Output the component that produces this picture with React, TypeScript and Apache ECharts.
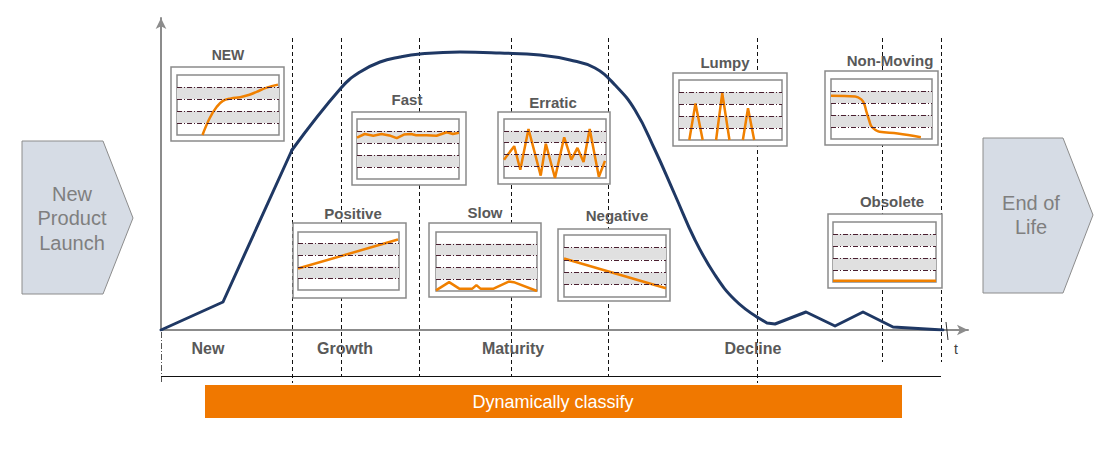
import React, { useEffect, useRef } from "react";
import * as echarts from "echarts";

// ---------- main life-cycle curve (x: time units, y: volume units) ----------
const riseX = [0, 62, 131];
const riseY = [0, 28, 180];
const capX = [131, 180, 199, 219, 239, 259, 299, 339, 379, 409, 434, 454, 474, 494, 514, 534, 554, 574, 596];
const capY = [180, 242, 258, 268, 273, 276, 278, 277, 275, 270, 262, 245, 220, 180, 135, 90, 55, 30, 13];
const tailX = [596, 606, 614, 645, 674, 702, 732, 782];
const tailY = [13, 7, 6, 18, 4, 18, 3, 0];

const phaseBounds = [0, 131, 180, 258, 350, 447, 596, 721, 780];
const phaseLabels = ["New", "Growth", "Maturity", "Decline"];
const phaseLabelX = [47, 184, 352, 592];

// ---------- mini charts ----------
const miniTitles = ["NEW", "Fast", "Erratic", "Positive", "Slow", "Negative", "Lumpy", "Non-Moving", "Obsolete"];
const newX = [25, 32, 39, 45, 53, 62, 71, 78, 88, 99];
const newY = [0, 28, 47, 57, 61, 63, 67, 72, 79, 84];
const fastX = [0, 7.5, 16, 24, 33, 39, 46, 53, 58, 68, 78, 88, 94, 100];
const fastY = [69, 75, 72, 75, 72, 68, 74, 75, 73, 73, 72, 78, 75, 77];
const erraticX = [0, 10, 16, 24, 36, 41, 50, 59, 66, 72, 78, 84, 93, 99];
const erraticY = [31, 54, 14, 83, 4, 58, 0, 69, 31, 51, 27, 83, 2, 29];
const positiveX = [0, 99];
const positiveY = [37, 87];
const slowX = [0, 13, 23, 36, 40, 44, 57, 72, 77, 100];
const slowY = [1, 15, 4, 4, 10, 4, 4, 16, 15, 0];
const negativeX = [0, 100];
const negativeY = [62, 14];
const lumpyX = [10, 16, 23, 29, 36, 42, 49, 55, 62, 67, 73];
const lumpyY: (number | string)[] = [0, 61, 0, "-", 0, 78, 0, "-", 0, 53, 0];
const nonMovingX = [0, 24, 30, 33, 35, 38, 40, 44, 48, 66, 89];
const nonMovingY = [72, 71, 66, 58, 46, 30, 21, 15, 12, 9, 3];
const obsoleteX = [0, 100];
const obsoleteY = [2, 2];
const miniXs = [newX, fastX, erraticX, positiveX, slowX, negativeX, lumpyX, nonMovingX, obsoleteX];
const miniYs = [newY, fastY, erraticY, positiveY, slowY, negativeY, lumpyY, nonMovingY, obsoleteY];
const miniSmooth = [true, false, false, false, false, false, false, true, false];
const bandLevels = [20, 40, 60, 80];

// ---------- layout (pixels) ----------
const MAIN = { left: 161, top: 18, width: 807, height: 312 };
// inner plot boxes [left, top, width, height]
const innerBoxes = [
  [177, 75, 102, 60],
  [357, 119, 102, 60],
  [504, 119, 102, 59],
  [298, 232, 101, 58],
  [436, 232, 101, 59],
  [564, 235, 102, 62],
  [679, 80, 103, 60],
  [831, 79, 101, 60],
  [833, 222, 103, 60],
];
const outerBoxes = [
  [171, 67, 113, 74],
  [352, 112, 114, 73],
  [498, 112, 112, 72],
  [293, 223, 113, 75],
  [429, 223, 112, 74],
  [558, 229, 112, 72],
  [673, 73, 114, 73],
  [825, 71, 113, 74],
  [828, 214, 114, 74],
];
const titlePos = [
  [228, 55], [407, 99], [553, 102], [353, 213], [485, 212], [617, 215], [725, 62], [890, 60], [892, 201],
];
const dividerSpans = [
  [332, 383], [38, 383], [38, 376], [38, 376], [38, 376], [38, 376], [38, 383], [38, 362], [38, 362],
];

const FONT = '"Liberation Sans", Arial, sans-serif';
const NAVY = "#1f3864";
const ORANGE = "#f08000";
const TITLE_GRAY = "#595959";

const zip = (xs: any[], ys: any[]) => xs.map((x, i) => [x, ys[i]]);

function buildOption() {
  const grids: any[] = [{ ...MAIN }];
  const xAxes: any[] = [
    {
      gridIndex: 0, type: "value", min: 0, max: MAIN.width,
      axisLine: { show: true, onZero: false, symbol: ["none", "arrow"], symbolSize: [8, 11], lineStyle: { color: "#8c8c8c", width: 2 } },
      axisTick: { show: false }, axisLabel: { show: false }, splitLine: { show: false },
    },
  ];
  const yAxes: any[] = [
    {
      gridIndex: 0, type: "value", min: 0, max: MAIN.height,
      axisLine: { show: true, onZero: false, symbol: ["none", "arrow"], symbolSize: [8, 11], lineStyle: { color: "#8c8c8c", width: 2 } },
      axisTick: { show: false }, axisLabel: { show: false }, splitLine: { show: false },
    },
  ];
  const mainLine = { color: NAVY, width: 3, cap: "round", join: "round" };
  const series: any[] = [
    { type: "line", xAxisIndex: 0, yAxisIndex: 0, data: zip(riseX, riseY), symbol: "none", lineStyle: mainLine, z: 3 },
    { type: "line", xAxisIndex: 0, yAxisIndex: 0, data: zip(capX, capY), symbol: "none", smooth: 0.45, lineStyle: mainLine, z: 3 },
    { type: "line", xAxisIndex: 0, yAxisIndex: 0, data: zip(tailX, tailY), symbol: "none", lineStyle: mainLine, z: 3 },
  ];

  innerBoxes.forEach((b, i) => {
    const gi = i + 1;
    grids.push({ left: b[0], top: b[1], width: b[2], height: b[3] });
    xAxes.push({ gridIndex: gi, type: "value", min: 0, max: 100, show: false });
    yAxes.push({ gridIndex: gi, type: "value", min: 0, max: 100, show: false });
    series.push({
      type: "line", xAxisIndex: gi, yAxisIndex: gi,
      data: zip(miniXs[i], miniYs[i]),
      symbol: "none", smooth: miniSmooth[i] ? 0.4 : false, connectNulls: false,
      lineStyle: { color: ORANGE, width: 2.5 }, z: 4,
      markArea: {
        silent: true,
        itemStyle: { color: "#e0e0e0" },
        data: [
          [{ yAxis: bandLevels[0] }, { yAxis: bandLevels[1] }],
          [{ yAxis: bandLevels[2] }, { yAxis: bandLevels[3] }],
        ],
      },
      markLine: {
        silent: true, symbol: ["none", "none"], label: { show: false },
        lineStyle: { color: "#4a1f30", type: [5, 2, 1, 2], width: 1 },
        data: bandLevels.map((v) => ({ yAxis: v })),
      },
    });
  });

  const graphic: any[] = [];
  // phase dividers
  phaseBounds.forEach((b, i) => {
    const x = MAIN.left + b + 0.5;
    graphic.push({
      type: "line", z: 1,
      shape: { x1: x, y1: dividerSpans[i][0], x2: x, y2: dividerSpans[i][1] },
      style: { stroke: i === 0 ? "#555" : "#111", lineWidth: 1, lineDash: i === 0 ? [6, 2, 1, 2] : [4, 3] },
    });
  });
  // bottom line
  graphic.push({
    type: "line", z: 1,
    shape: { x1: MAIN.left, y1: 376.5, x2: MAIN.left + phaseBounds[phaseBounds.length - 1], y2: 376.5 },
    style: { stroke: "#111", lineWidth: 1 },
  });
  // small tick at axis end
  graphic.push({
    type: "line", z: 1,
    shape: { x1: 946, y1: 322, x2: 948, y2: 340 },
    style: { stroke: "#333", lineWidth: 1 },
  });
  // mini-chart boxes
  outerBoxes.forEach((b) => {
    graphic.push({ type: "rect", z: 1, shape: { x: b[0], y: b[1], width: b[2], height: b[3] }, style: { fill: "#fff", stroke: "#8a8a8a", lineWidth: 1.5 } });
  });
  innerBoxes.forEach((b) => {
    graphic.push({ type: "rect", z: 1, shape: { x: b[0], y: b[1], width: b[2], height: b[3] }, style: { fill: "#fff", stroke: "#8a8a8a", lineWidth: 1.5 } });
  });
  // mini titles
  miniTitles.forEach((t, i) => {
    graphic.push({
      type: "text", z: 6, x: titlePos[i][0], y: titlePos[i][1],
      style: { text: t, fill: TITLE_GRAY, fontFamily: FONT, fontWeight: "bold", fontSize: i === 0 ? 14 : 15, align: "center", verticalAlign: "middle" },
    });
  });
  // phase labels
  phaseLabels.forEach((t, i) => {
    graphic.push({
      type: "text", z: 6, x: MAIN.left + phaseLabelX[i], y: 348,
      style: { text: t, fill: TITLE_GRAY, fontFamily: FONT, fontWeight: "bold", fontSize: 16, align: "center", verticalAlign: "middle" },
    });
  });
  graphic.push({
    type: "text", z: 6, x: 956, y: 349,
    style: { text: "t", fill: "#404040", fontFamily: FONT, fontSize: 14, align: "center", verticalAlign: "middle" },
  });
  // side arrows
  graphic.push({
    type: "polygon", z: 1,
    shape: { points: [[22, 141], [103, 141], [133, 218], [103, 294], [22, 294]] },
    style: { fill: "#d6dce5", stroke: "#8c8c8c", lineWidth: 1 },
  });
  graphic.push({
    type: "text", z: 6, x: 72, y: 218,
    style: { text: "New\nProduct\nLaunch", fill: "#7f7f7f", fontFamily: FONT, fontSize: 20, lineHeight: 24.5, align: "center", verticalAlign: "middle" },
  });
  graphic.push({
    type: "polygon", z: 1,
    shape: { points: [[983, 138], [1063, 138], [1093, 215], [1063, 293], [983, 293]] },
    style: { fill: "#d6dce5", stroke: "#8c8c8c", lineWidth: 1 },
  });
  graphic.push({
    type: "text", z: 6, x: 1031, y: 215,
    style: { text: "End of\nLife", fill: "#7f7f7f", fontFamily: FONT, fontSize: 20, lineHeight: 24.5, align: "center", verticalAlign: "middle" },
  });
  // orange bar
  graphic.push({
    type: "rect", z: 1,
    shape: { x: 205, y: 385, width: 697, height: 33 },
    style: { fill: "#f07800" },
  });
  graphic.push({
    type: "text", z: 6, x: 553, y: 402,
    style: { text: "Dynamically classify", fill: "#ffffff", fontFamily: FONT, fontSize: 18, align: "center", verticalAlign: "middle" },
  });

  return {
    animation: false,
    backgroundColor: "#ffffff",
    grid: grids,
    xAxis: xAxes,
    yAxis: yAxes,
    series,
    graphic,
  };
}

export default function App() {
  const ref = useRef<HTMLDivElement>(null);
  useEffect(() => {
    document.body.style.margin = "0";
    if (!ref.current) return;
    const chart = echarts.init(ref.current, undefined, { renderer: "svg" });
    chart.setOption(buildOption() as any);
    return () => chart.dispose();
  }, []);
  return <div ref={ref} style={{ width: 1101, height: 449 }} />;
}
